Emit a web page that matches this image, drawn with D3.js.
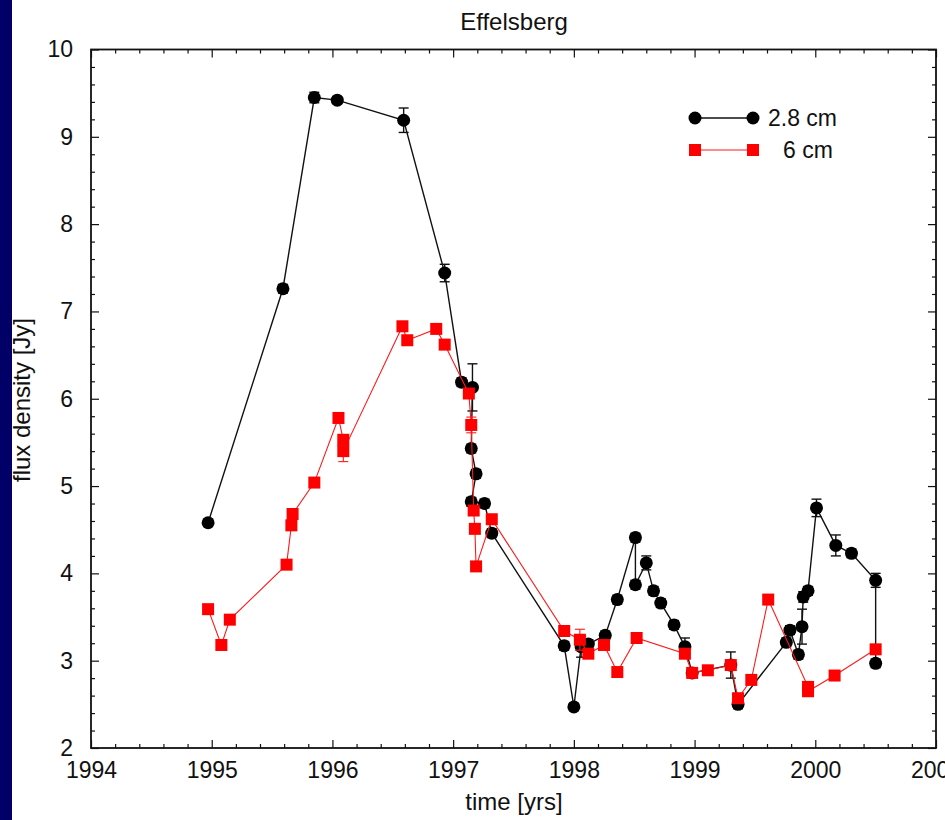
<!DOCTYPE html>
<html>
<head>
<meta charset="utf-8">
<script src="https://cdn.jsdelivr.net/npm/d3@7"></script>
<style>
body { margin: 0; background: #fff; }
svg { display: block; }
text { font-family: "Liberation Sans", Arial, sans-serif; fill: #111; }
</style>
</head>
<body>
<svg id="chart"></svg>
<script>
// 2.8 cm series (time in years, flux in Jy, error in Jy)
const years28 = [1994.97, 1995.59, 1995.85, 1996.04, 1996.59, 1996.93, 1997.07, 1997.16, 1997.15, 1997.19,
  1997.15, 1997.26, 1997.32, 1997.92, 1998.00, 1998.06, 1998.12, 1998.26, 1998.36, 1998.51,
  1998.51, 1998.60, 1998.66, 1998.72, 1998.83, 1998.92, 1998.98, 1999.30, 1999.36, 1999.76,
  1999.79, 1999.86, 1999.89, 1999.90, 1999.94, 2000.01, 2000.17, 2000.30, 2000.50, 2000.50];
const flux28 = [4.58, 7.26, 9.45, 9.42, 9.19, 7.44, 6.19, 6.13, 5.43, 5.14,
  4.82, 4.80, 4.46, 3.17, 2.47, 3.16, 3.19, 3.29, 3.70, 4.41,
  3.87, 4.12, 3.80, 3.66, 3.41, 3.16, 2.86, 2.95, 2.50, 3.21,
  3.35, 3.07, 3.39, 3.73, 3.80, 4.75, 4.32, 4.23, 3.92, 2.97];
const err28 = [0.04, 0.05, 0.06, 0.04, 0.14, 0.10, 0.05, 0.27, 0.05, 0.05,
  0.05, 0.05, 0.05, 0.05, 0.04, 0.12, 0.05, 0.05, 0.05, 0.05,
  0.05, 0.08, 0.05, 0.05, 0.05, 0.10, 0.05, 0.15, 0.05, 0.05,
  0.05, 0.05, 0.20, 0.06, 0.05, 0.10, 0.12, 0.05, 0.08, 0.05];

// 6 cm series
const years6 = [1994.97, 1995.08, 1995.15, 1995.62, 1995.66, 1995.67, 1995.85, 1996.05, 1996.09, 1996.09,
  1996.58, 1996.62, 1996.86, 1996.93, 1997.13, 1997.15, 1997.17, 1997.18, 1997.19, 1997.32,
  1997.92, 1998.05, 1998.12, 1998.25, 1998.36, 1998.52, 1998.92, 1998.98, 1999.11, 1999.30,
  1999.36, 1999.47, 1999.61, 1999.94, 1999.94, 2000.16, 2000.50];
const flux6 = [3.59, 3.18, 3.47, 4.10, 4.55, 4.68, 5.04, 5.78, 5.53, 5.40,
  6.83, 6.67, 6.80, 6.62, 6.06, 5.70, 4.72, 4.51, 4.08, 4.62,
  3.34, 3.24, 3.08, 3.18, 2.87, 3.26, 3.08, 2.86, 2.89, 2.95,
  2.57, 2.78, 3.70, 2.70, 2.65, 2.83, 3.13];
const err6 = [0.03, 0.03, 0.03, 0.03, 0.03, 0.03, 0.03, 0.05, 0.05, 0.12,
  0.03, 0.03, 0.03, 0.03, 0.04, 0.09, 0.04, 0.04, 0.03, 0.04,
  0.03, 0.12, 0.03, 0.03, 0.03, 0.03, 0.03, 0.03, 0.03, 0.03,
  0.03, 0.03, 0.03, 0.03, 0.03, 0.03, 0.03];

const xMajor = [1994, 1995, 1996, 1997, 1998, 1999, 2000, 2001];
const yMajor = [2, 3, 4, 5, 6, 7, 8, 9, 10];
const legendNames = ["2.8 cm", "6 cm"];

var width = 945;
var height = 820;

var svg = d3.select('#chart')
    .attr("width", width)
    .attr("height", height);

// dark strip on the left edge
svg.append("rect").attr("x", 0).attr("y", 0).attr("width", 12).attr("height", height).attr("fill", "#000066");

var x = d3.scaleLinear().domain([1994, 2001]).range([91, 936]);
var y = d3.scaleLinear().domain([2, 10]).range([748, 49.5]);

var xMinor = d3.range(1994, 2001.001, 0.2).filter(v => Math.abs(v - Math.round(v)) > 0.01);
var yMinor = d3.range(2, 10.001, 0.2).filter(v => Math.abs(v - Math.round(v)) > 0.01);

function styleAxis(g) {
    g.select(".domain").remove();
    g.selectAll(".tick line").attr("stroke", "#111").attr("stroke-width", 1.2);
    g.selectAll(".tick text").style("font-size", "23px").attr("fill", "#111");
}

// labelled axes (ticks point inward)
svg.append("g").attr("transform", "translate(0,748)")
    .call(d3.axisBottom(x).tickValues(xMajor).tickFormat(d3.format("d")).tickSizeInner(-8).tickSizeOuter(0).tickPadding(14))
    .call(styleAxis);
svg.append("g").attr("transform", "translate(91,0)")
    .call(d3.axisLeft(y).tickValues(yMajor).tickFormat(d3.format("d")).tickSizeInner(-8).tickSizeOuter(0).tickPadding(18))
    .call(styleAxis);
svg.append("g").attr("transform", "translate(0,49.5)")
    .call(d3.axisTop(x).tickValues(xMajor).tickFormat("").tickSizeInner(-8).tickSizeOuter(0))
    .call(styleAxis);
svg.append("g").attr("transform", "translate(936,0)")
    .call(d3.axisRight(y).tickValues(yMajor).tickFormat("").tickSizeInner(-8).tickSizeOuter(0))
    .call(styleAxis);

// minor ticks
svg.append("g").attr("transform", "translate(0,748)")
    .call(d3.axisBottom(x).tickValues(xMinor).tickFormat("").tickSizeInner(-4).tickSizeOuter(0)).call(styleAxis);
svg.append("g").attr("transform", "translate(0,49.5)")
    .call(d3.axisTop(x).tickValues(xMinor).tickFormat("").tickSizeInner(-4).tickSizeOuter(0)).call(styleAxis);
svg.append("g").attr("transform", "translate(91,0)")
    .call(d3.axisLeft(y).tickValues(yMinor).tickFormat("").tickSizeInner(-4).tickSizeOuter(0)).call(styleAxis);
svg.append("g").attr("transform", "translate(936,0)")
    .call(d3.axisRight(y).tickValues(yMinor).tickFormat("").tickSizeInner(-4).tickSizeOuter(0)).call(styleAxis);

// frame
svg.append("rect")
    .attr("x", x(1994)).attr("y", y(10))
    .attr("width", x(2001) - x(1994)).attr("height", y(2) - y(10))
    .attr("fill", "none").attr("stroke", "#111").attr("stroke-width", 1.8);

// titles
svg.append("text").attr("x", 514).attr("y", 30).attr("text-anchor", "middle").style("font-size", "24px").text("Effelsberg");
svg.append("text").attr("x", 514).attr("y", 810).attr("text-anchor", "middle").style("font-size", "24px").text("time [yrs]");
svg.append("text").attr("transform", "translate(30,400) rotate(-90)").attr("text-anchor", "middle").style("font-size", "24px").text("flux density [Jy]");

var data28 = d3.zip(years28, flux28, err28).map(d => ({t: d[0], f: d[1], e: d[2]}));
var data6 = d3.zip(years6, flux6, err6).map(d => ({t: d[0], f: d[1], e: d[2]}));

var line = d3.line().x(d => x(d.t)).y(d => y(d.f));

function drawErrors(data, color, width) {
    var g = svg.append("g").attr("stroke", color).attr("stroke-width", width);
    g.selectAll("line.v").data(data).enter().append("line")
        .attr("x1", d => x(d.t)).attr("x2", d => x(d.t))
        .attr("y1", d => y(d.f + d.e)).attr("y2", d => y(d.f - d.e));
    g.selectAll("line.top").data(data).enter().append("line")
        .attr("x1", d => x(d.t) - 5).attr("x2", d => x(d.t) + 5)
        .attr("y1", d => y(d.f + d.e)).attr("y2", d => y(d.f + d.e));
    g.selectAll("line.bot").data(data).enter().append("line")
        .attr("x1", d => x(d.t) - 5).attr("x2", d => x(d.t) + 5)
        .attr("y1", d => y(d.f - d.e)).attr("y2", d => y(d.f - d.e));
}

// 2.8 cm : black circles
svg.append("path").datum(data28).attr("d", line).attr("fill", "none").attr("stroke", "#111").attr("stroke-width", 1.4);
drawErrors(data28, "#111", 1.4);
svg.append("g").selectAll("circle").data(data28).enter().append("circle")
    .attr("cx", d => x(d.t)).attr("cy", d => y(d.f)).attr("r", 6.5).attr("fill", "#000");

// 6 cm : red squares
svg.append("path").datum(data6).attr("d", line).attr("fill", "none").attr("stroke", "#ff1a1a").attr("stroke-width", 1.1);
drawErrors(data6, "#ff1a1a", 1.1);
svg.append("g").selectAll("rect").data(data6).enter().append("rect")
    .attr("x", d => x(d.t) - 6).attr("y", d => y(d.f) - 6).attr("width", 12).attr("height", 12).attr("fill", "#ff0000");

// legend
var leg = svg.append("g");
leg.append("line").attr("x1", 695).attr("x2", 753).attr("y1", 118).attr("y2", 118).attr("stroke", "#111").attr("stroke-width", 1.6);
leg.selectAll("circle").data([695, 753]).enter().append("circle").attr("cx", d => d).attr("cy", 118).attr("r", 6.5).attr("fill", "#000");
leg.append("text").attr("x", 768).attr("y", 126).style("font-size", "23px").text(legendNames[0]);
leg.append("line").attr("x1", 695).attr("x2", 753).attr("y1", 150).attr("y2", 150).attr("stroke", "#ff1a1a").attr("stroke-width", 1.2);
leg.selectAll("rect").data([695, 753]).enter().append("rect").attr("x", d => d - 6).attr("y", 144).attr("width", 12).attr("height", 12).attr("fill", "#ff0000");
leg.append("text").attr("x", 783).attr("y", 158).style("font-size", "23px").text(legendNames[1]);
</script>
</body>
</html>
